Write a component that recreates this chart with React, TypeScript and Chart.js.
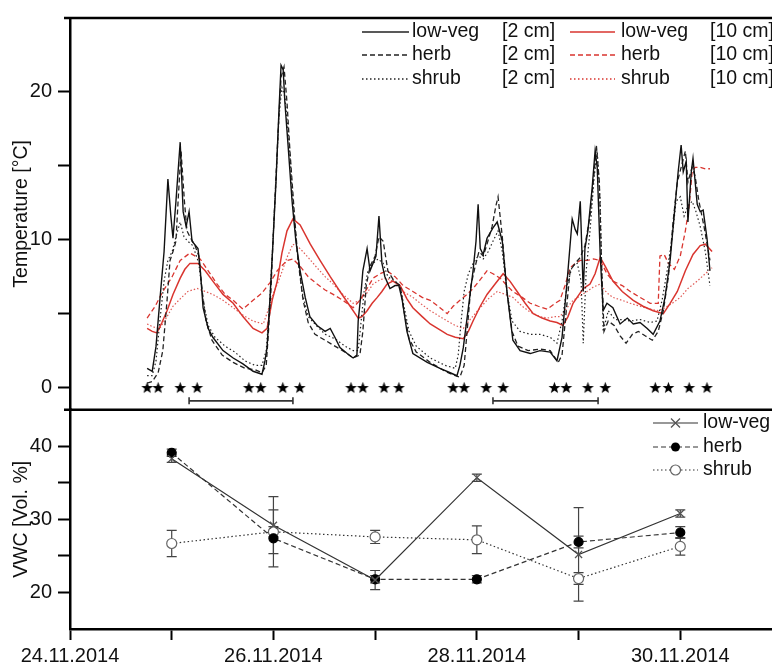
import React, { useEffect, useRef } from 'react';
import { Chart, registerables } from 'chart.js';

Chart.register(...registerables);

const FONT = 'Arial, "Liberation Sans", Helvetica, sans-serif';

// ---- axes (x in hours since 24.11.2014 00:00) ----
const xTickValues = [0, 24, 48, 72, 96, 120, 144];
const xTickLabels = ['24.11.2014', '', '26.11.2014', '', '28.11.2014', '', '30.11.2014'];
const tempTicks = [0, 5, 10, 15, 20];
const tempTickLabels = ['0', '', '10', '', '20'];
const vwcTicks = [20, 25, 30, 35, 40];
const vwcTickLabels = ['20', '', '30', '', '40'];

// ---- temperature series [hour, °C] ----
const lowVeg2cm: [number, number][] = [
  [18.2, 1.3], [19.4, 1.1], [20.3, 2.8], [21.2, 5.9], [22.2, 9.2], [23.1, 14.1], [23.8, 11.6], [24.3, 10.1],
  [25.0, 12.6], [26.0, 16.6], [26.7, 11.9], [27.4, 10.9], [28.1, 11.9], [28.8, 9.9], [30.2, 9.4], [30.7, 8.1],
  [31.4, 5.4], [32.6, 4.0], [33.7, 3.4], [36.1, 2.5], [38.5, 2.0], [40.8, 1.6], [43.2, 1.1], [45.3, 0.9],
  [46.0, 1.8], [46.5, 2.7], [47.2, 6.1], [47.9, 9.9], [48.6, 13.9], [49.3, 18.7], [49.8, 21.8], [50.3, 21.5],
  [50.7, 19.3], [51.4, 16.6], [52.4, 12.6], [53.3, 9.9], [54.3, 7.9], [55.5, 6.1], [56.6, 4.8], [58.3, 4.2],
  [60.2, 3.8], [61.4, 4.0], [62.5, 3.4], [63.7, 2.7], [65.4, 2.3], [66.8, 2.0], [67.7, 2.2], [68.0, 4.5],
  [68.7, 6.5], [69.1, 7.9], [70.1, 9.4], [70.8, 7.9], [71.5, 8.4], [72.2, 8.9], [72.9, 11.6], [73.6, 8.4],
  [74.3, 7.5], [75.5, 6.7], [76.7, 6.9], [77.6, 6.9], [78.4, 5.9], [79.5, 3.8], [80.9, 2.3], [84.3, 1.7],
  [87.3, 1.3], [89.7, 1.0], [91.3, 0.8], [92.0, 1.5], [92.8, 2.7], [94.0, 5.4], [95.1, 7.9], [95.8, 9.9],
  [96.3, 12.4], [96.8, 9.4], [97.5, 9.0], [98.4, 10.1], [99.8, 10.8], [100.8, 11.2], [102.0, 9.9], [103.1, 6.5],
  [104.5, 3.2], [106.2, 2.5], [108.6, 2.3], [110.9, 2.5], [113.3, 2.4], [114.9, 1.8], [116.1, 3.4], [117.3, 7.2],
  [118.5, 11.4], [119.2, 10.7], [119.7, 10.4], [120.4, 12.6], [121.1, 6.5], [121.5, 9.4], [122.2, 10.6], [123.2, 13.5],
  [123.9, 16.0], [124.4, 14.9], [125.1, 9.0], [125.8, 5.2], [126.7, 5.7], [128.1, 5.4], [129.8, 4.3], [131.5, 4.7],
  [132.9, 4.3], [134.5, 4.4], [136.2, 4.0], [137.6, 3.6], [139.2, 4.5], [140.4, 6.1], [141.6, 8.6], [142.8, 12.4],
  [143.5, 14.6], [144.2, 16.4], [144.7, 14.6], [145.4, 15.3], [145.8, 11.2], [146.6, 14.6], [147.0, 15.5], [148.0, 12.4],
  [148.7, 11.9], [149.4, 12.0], [150.3, 10.1], [151.0, 7.9],
];
const herb2cm: [number, number][] = [
  [18.2, 0.3], [19.4, 0.4], [20.8, 1.0], [21.9, 2.5], [22.9, 5.9], [23.6, 8.6], [24.3, 9.2], [25.0, 9.9],
  [25.5, 12.6], [26.2, 16.0], [27.0, 12.6], [27.6, 10.6], [28.3, 10.2], [29.5, 9.6], [30.4, 8.9], [31.2, 6.5],
  [32.1, 4.5], [33.5, 3.2], [35.9, 2.2], [38.5, 1.7], [41.3, 1.3], [43.7, 1.2], [45.3, 1.0], [46.3, 1.5],
  [46.7, 3.2], [47.4, 6.5], [48.1, 11.2], [49.1, 17.3], [49.8, 21.0], [50.5, 21.7], [51.2, 19.3], [51.9, 16.0],
  [52.9, 11.9], [53.8, 8.6], [55.0, 5.9], [56.2, 4.4], [57.8, 3.6], [60.2, 3.2], [62.5, 2.8], [64.9, 2.4],
  [66.8, 2.0], [68.4, 2.2], [69.1, 3.8], [69.9, 6.9], [70.8, 8.2], [72.0, 8.9], [72.9, 10.2], [73.9, 9.9],
  [75.0, 7.9], [76.5, 7.2], [77.9, 6.9], [78.8, 5.2], [80.0, 3.3], [81.7, 2.4], [85.0, 1.7], [88.5, 1.1],
  [90.9, 0.8], [92.0, 0.7], [93.0, 1.5], [93.7, 3.8], [94.6, 6.9], [95.6, 8.2], [96.5, 9.2], [97.5, 8.9],
  [98.4, 9.7], [99.6, 10.9], [100.5, 12.3], [101.0, 12.9], [102.0, 10.2], [103.1, 6.5], [104.3, 3.8], [105.7, 2.8],
  [108.1, 2.5], [110.9, 2.6], [113.3, 2.5], [115.2, 1.7], [116.1, 2.2], [117.1, 5.2], [118.0, 7.9], [119.2, 8.4],
  [120.4, 8.8], [121.5, 9.6], [122.7, 11.6], [123.7, 14.6], [124.2, 16.4], [124.9, 13.9], [125.4, 8.6], [126.0, 3.8],
  [127.0, 4.5], [128.4, 4.2], [129.8, 3.5], [131.2, 3.0], [132.7, 3.6], [134.1, 3.8], [135.7, 3.5], [137.4, 3.2],
  [138.8, 3.8], [140.0, 5.2], [141.2, 7.5], [142.3, 11.2], [143.3, 13.9], [144.2, 14.9], [145.2, 16.0], [145.8, 13.9],
  [146.8, 14.9], [147.5, 14.3], [148.4, 12.6], [149.6, 10.9], [151.0, 8.6],
];
const shrub2cm: [number, number][] = [
  [18.2, 0.8], [19.4, 0.8], [20.3, 1.8], [21.2, 4.5], [22.2, 7.2], [23.1, 8.6], [24.1, 9.2], [25.0, 10.2],
  [26.0, 11.2], [26.9, 10.2], [27.8, 9.9], [29.0, 9.6], [30.4, 8.4], [31.4, 5.9], [32.6, 4.2], [34.2, 3.4],
  [36.6, 2.8], [38.9, 2.4], [41.3, 1.8], [43.7, 1.5], [45.3, 1.5], [46.3, 2.5], [47.0, 5.2], [47.7, 8.9],
  [48.6, 13.9], [49.3, 18.3], [50.0, 20.3], [50.7, 19.7], [51.7, 16.6], [52.6, 12.6], [53.6, 9.2], [54.8, 6.4],
  [56.2, 4.8], [58.1, 4.2], [60.2, 3.6], [62.5, 3.3], [64.9, 2.8], [66.8, 2.5], [68.0, 2.5], [68.7, 4.5],
  [69.4, 6.5], [70.3, 7.9], [71.5, 8.4], [72.7, 8.7], [73.9, 8.4], [75.0, 7.5], [76.7, 7.2], [77.9, 6.9],
  [78.8, 5.5], [80.0, 3.8], [81.7, 2.8], [85.0, 2.0], [88.5, 1.5], [90.9, 1.3], [91.6, 2.2], [92.3, 4.5],
  [93.0, 6.5], [94.0, 7.7], [95.1, 8.4], [96.3, 8.9], [97.5, 8.7], [98.7, 9.2], [99.8, 9.9], [101.0, 10.6],
  [102.0, 9.2], [103.1, 6.5], [104.3, 4.5], [106.2, 3.8], [108.6, 3.6], [110.9, 3.6], [113.3, 3.4], [114.9, 3.0],
  [116.1, 4.5], [117.3, 6.9], [118.5, 8.2], [119.7, 8.4], [120.6, 7.2], [121.1, 3.0], [121.8, 7.9], [122.7, 10.6],
  [123.7, 14.3], [124.4, 16.0], [125.1, 12.6], [125.8, 3.8], [127.0, 5.2], [128.6, 4.6], [130.3, 4.6], [132.2, 4.5],
  [134.5, 4.6], [136.9, 4.4], [138.5, 4.5], [139.7, 5.9], [140.9, 7.9], [142.1, 10.2], [143.0, 12.6], [144.0, 12.9],
  [144.9, 11.6], [145.8, 12.3], [146.8, 12.6], [147.7, 11.9], [148.7, 10.9], [149.9, 9.2], [151.0, 6.9],
];
const lowVeg10cm: [number, number][] = [
  [18.2, 4.0], [19.4, 3.8], [20.5, 3.7], [21.7, 4.4], [22.9, 5.2], [24.3, 6.3], [26.0, 7.4], [27.1, 8.0],
  [28.3, 8.4], [30.2, 8.4], [31.9, 7.9], [33.7, 7.2], [36.1, 6.3], [38.5, 5.7], [40.8, 4.8], [43.2, 4.0],
  [45.3, 3.7], [46.5, 4.0], [47.7, 5.9], [48.9, 7.2], [50.0, 9.1], [51.2, 10.6], [52.6, 11.4], [54.3, 11.0],
  [56.7, 9.7], [59.0, 8.6], [61.4, 7.5], [63.7, 6.5], [66.1, 5.5], [68.0, 4.7], [68.9, 4.8], [70.1, 5.2],
  [71.3, 5.7], [72.5, 6.1], [73.6, 6.5], [74.8, 7.0], [76.2, 7.2], [77.9, 6.9], [79.5, 6.0], [80.9, 5.4],
  [83.1, 4.8], [85.0, 4.3], [87.3, 3.9], [89.0, 3.6], [90.9, 3.4], [92.8, 3.3], [94.0, 3.8], [95.1, 4.5],
  [96.8, 5.5], [98.4, 6.3], [100.3, 7.0], [102.2, 7.7], [103.8, 7.2], [105.5, 6.5], [107.4, 5.7], [109.3, 5.0],
  [111.4, 4.7], [113.3, 4.5], [114.9, 4.4], [116.3, 4.2], [117.5, 4.8], [118.7, 5.7], [119.9, 6.2], [121.1, 6.7],
  [122.7, 7.0], [123.9, 7.7], [125.1, 8.8], [126.3, 8.2], [128.1, 7.2], [130.3, 6.5], [132.9, 5.9], [135.2, 5.5],
  [137.6, 5.2], [140.0, 5.0], [141.6, 5.7], [143.3, 6.5], [145.2, 7.9], [147.0, 9.0], [148.7, 9.6], [149.9, 9.7],
  [151.5, 9.2],
];
const herb10cm: [number, number][] = [
  [18.2, 4.7], [20.1, 5.5], [21.9, 6.5], [24.1, 7.5], [26.0, 8.6], [28.3, 9.1], [30.7, 8.7], [32.6, 7.9],
  [34.7, 7.0], [36.6, 6.3], [38.5, 5.9], [40.8, 5.3], [43.2, 5.9], [45.3, 6.4], [47.2, 7.1], [48.9, 7.9],
  [51.2, 8.6], [52.6, 8.7], [54.3, 8.2], [56.2, 7.5], [58.3, 7.0], [60.2, 6.6], [62.1, 6.3], [64.4, 5.9],
  [66.8, 5.4], [68.4, 5.9], [70.1, 6.7], [71.5, 7.4], [73.2, 7.7], [74.8, 7.9], [76.7, 7.5], [78.6, 6.9],
  [80.9, 6.5], [83.1, 6.1], [85.0, 5.9], [87.3, 5.4], [89.0, 5.0], [90.4, 5.5], [92.0, 5.9], [93.7, 6.3],
  [95.1, 6.7], [96.8, 7.3], [98.4, 7.9], [99.8, 7.7], [101.5, 7.4], [103.1, 6.9], [104.5, 6.5], [106.7, 6.1],
  [108.6, 5.7], [110.5, 5.5], [112.6, 5.3], [114.5, 5.7], [115.6, 5.9], [116.8, 6.9], [118.0, 8.1], [119.2, 8.4],
  [120.4, 8.6], [122.0, 8.6], [123.5, 8.7], [125.1, 8.6], [126.7, 7.7], [128.1, 7.2], [130.3, 6.9], [132.2, 6.5],
  [134.5, 6.1], [136.9, 5.7], [138.8, 5.7], [139.2, 8.9], [140.2, 9.0], [141.2, 8.4], [142.6, 8.0], [144.0, 8.9],
  [145.2, 10.6], [146.1, 12.3], [146.8, 14.6], [147.5, 14.9], [148.7, 14.9], [149.9, 14.8], [151.0, 14.8],
];
const shrub10cm: [number, number][] = [
  [18.2, 4.3], [19.6, 4.1], [21.2, 4.0], [22.9, 4.8], [24.3, 5.5], [26.0, 6.0], [27.8, 6.5], [30.0, 6.7],
  [31.9, 6.5], [33.7, 6.3], [36.1, 5.9], [38.5, 5.4], [40.8, 4.9], [43.2, 4.5], [45.6, 4.3], [46.7, 5.2],
  [47.9, 6.3], [49.6, 7.5], [51.2, 8.8], [52.6, 9.7], [54.3, 9.4], [56.2, 8.8], [58.3, 8.1], [60.2, 7.5],
  [62.1, 7.0], [64.4, 6.3], [66.8, 5.7], [68.4, 5.9], [70.1, 6.4], [71.5, 7.0], [73.2, 7.3], [74.8, 7.4],
  [76.7, 7.1], [78.6, 6.5], [80.9, 6.1], [83.1, 5.6], [85.0, 5.2], [87.3, 4.8], [89.0, 4.5], [90.9, 4.2],
  [92.8, 4.0], [94.4, 4.6], [96.8, 5.4], [98.7, 6.0], [100.8, 6.5], [102.7, 6.3], [104.5, 6.1], [106.7, 5.5],
  [108.6, 5.1], [110.9, 4.8], [112.6, 4.7], [114.5, 4.8], [115.6, 4.8], [117.3, 5.4], [118.7, 5.9], [120.4, 6.2],
  [122.0, 6.5], [123.5, 6.8], [125.1, 7.0], [126.7, 6.4], [128.1, 6.1], [130.3, 5.9], [132.2, 5.7], [134.5, 5.5],
  [136.9, 5.3], [138.8, 5.2], [140.4, 5.4], [142.1, 5.7], [144.0, 6.1], [145.8, 6.7], [148.0, 7.2], [149.9, 7.7],
  [151.5, 8.1],
];

// ---- markers in the temperature panel ----
const starHours = [
  18.2, 20.8, 26.0, 30.0, 42.2, 45.0, 50.2, 54.2, 66.3, 69.1, 74.1, 77.6,
  90.4, 93.0, 98.2, 102.2, 114.3, 117.1, 122.2, 126.3, 138.1, 141.2, 146.1, 150.3,
];
const starLevel = 0;
const bracketSpans: [number, number][] = [[28.1, 52.6], [99.8, 124.6]];
const bracketLevel = -0.9;

// ---- VWC panel ----
const vwcHours = [24, 48, 72, 96, 120, 144];
const vwcLowVeg = [38.3, 29.2, 21.7, 35.7, 25.2, 30.8];
const vwcLowVegErr = [0.5, 3.9, 1.3, 0.5, 6.4, 0.5];
const vwcHerb = [39.1, 27.4, 21.8, 21.8, 26.9, 28.2];
const vwcHerbErr = [0.5, 3.9, 0.5, 0.5, 0.8, 0.8];
const vwcShrub = [26.7, 28.3, 27.6, 27.2, 21.9, 26.3];
const vwcShrubErr = [1.8, 0.7, 0.9, 1.9, 0.8, 1.2];

const vegNames = ['low-veg', 'herb', 'shrub'];
const depthNames = ['[2 cm]', '[10 cm]'];

const RED = '#d9352f';
const BLACK = '#111111';
const dashFor = [[], [5, 3], [1.5, 2.5]];

function makeStar(size: number) {
  const c = document.createElement('canvas');
  c.width = size;
  c.height = size;
  const g = c.getContext('2d')!;
  const cx = size / 2, cy = size / 2 + 0.5, R = size / 2 - 0.3, r = R * 0.42;
  g.beginPath();
  for (let i = 0; i < 10; i++) {
    const a = -Math.PI / 2 + (i * Math.PI) / 5;
    const rad = i % 2 ? r : R;
    g.lineTo(cx + rad * Math.cos(a), cy + rad * Math.sin(a));
  }
  g.closePath();
  g.fillStyle = '#000';
  g.fill();
  return c;
}

const toPts = (arr: [number, number][]) => arr.map(([x, y]) => ({ x, y }));

export default function App() {
  const ref = useRef<HTMLCanvasElement>(null);

  useEffect(() => {
    const canvas = ref.current!;
    const star = makeStar(13);

    const lineDs = (label: string, d: [number, number][], color: string, width: number, dash: number[]) => ({
      label, data: toPts(d), yAxisID: 'yT', borderColor: color, borderWidth: width, borderDash: dash,
      pointRadius: 0, tension: 0, fill: false, showLine: true,
    });

    const errorSets = [
      { values: vwcLowVeg, errs: vwcLowVegErr },
      { values: vwcHerb, errs: vwcHerbErr },
      { values: vwcShrub, errs: vwcShrubErr },
    ];

    const framePlugin = {
      id: 'frame',
      beforeDatasetsDraw(chart: any) {
        const { ctx, scales } = chart;
        const x = scales.x, yB = scales.yB;
        ctx.save();
        ctx.strokeStyle = '#444';
        ctx.lineWidth = 1.2;
        errorSets.forEach((s) => {
          s.values.forEach((v, i) => {
            const px = x.getPixelForValue(vwcHours[i]);
            const top = yB.getPixelForValue(v + s.errs[i]);
            const bot = yB.getPixelForValue(v - s.errs[i]);
            ctx.beginPath();
            ctx.moveTo(px, top); ctx.lineTo(px, bot);
            ctx.moveTo(px - 5, top); ctx.lineTo(px + 5, top);
            ctx.moveTo(px - 5, bot); ctx.lineTo(px + 5, bot);
            ctx.stroke();
          });
        });
        ctx.restore();
      },
      afterDraw(chart: any) {
        const { ctx, chartArea, scales } = chart;
        ctx.save();
        ctx.strokeStyle = '#000';
        ctx.lineWidth = 2.5;
        ctx.beginPath();
        ctx.moveTo(chartArea.left - 6, chartArea.top);
        ctx.lineTo(chart.width, chartArea.top);
        const dy = scales.yT.bottom;
        ctx.moveTo(chartArea.left - 6, dy);
        ctx.lineTo(chart.width, dy);
        ctx.stroke();

        // top legend
        ctx.font = `19.5px ${FONT}`;
        ctx.textBaseline = 'middle';
        ctx.fillStyle = '#111';
        const rowsT = [32, 55, 79];
        vegNames.forEach((name, i) => {
          const y = rowsT[i];
          ctx.lineWidth = 1.3;
          ctx.strokeStyle = '#222';
          ctx.setLineDash(dashFor[i]);
          ctx.beginPath(); ctx.moveTo(362, y); ctx.lineTo(409, y); ctx.stroke();
          ctx.strokeStyle = RED;
          ctx.beginPath(); ctx.moveTo(570, y); ctx.lineTo(615, y); ctx.stroke();
          ctx.setLineDash([]);
          ctx.fillText(name, 412, y);
          ctx.fillText(depthNames[0], 502, y);
          ctx.fillText(name, 621, y);
          ctx.fillText(depthNames[1], 710, y);
        });

        // bottom legend
        const rowsB = [423, 447, 470];
        vegNames.forEach((name, i) => {
          const y = rowsB[i];
          ctx.lineWidth = 1.2;
          ctx.strokeStyle = '#333';
          ctx.setLineDash(dashFor[i]);
          ctx.beginPath(); ctx.moveTo(653, y); ctx.lineTo(698, y); ctx.stroke();
          ctx.setLineDash([]);
          const cx = 675.5;
          if (i === 0) {
            ctx.strokeStyle = '#555'; ctx.lineWidth = 1.3;
            ctx.beginPath();
            ctx.moveTo(cx - 4.5, y - 4.5); ctx.lineTo(cx + 4.5, y + 4.5);
            ctx.moveTo(cx - 4.5, y + 4.5); ctx.lineTo(cx + 4.5, y - 4.5);
            ctx.stroke();
          } else if (i === 1) {
            ctx.fillStyle = '#000';
            ctx.beginPath(); ctx.arc(cx, y, 4.5, 0, Math.PI * 2); ctx.fill();
          } else {
            ctx.fillStyle = '#fff'; ctx.strokeStyle = '#666'; ctx.lineWidth = 1.2;
            ctx.beginPath(); ctx.arc(cx, y, 5, 0, Math.PI * 2); ctx.fill(); ctx.stroke();
          }
          ctx.fillStyle = '#111';
          ctx.fillText(name, 703, y);
        });
        ctx.restore();
      },
    };

    const tickFont = { family: FONT, size: 20 };
    const gridCfg = { drawOnChartArea: false, drawTicks: true, tickLength: 12, tickWidth: 2, tickColor: '#000' };

    const chart = new Chart(canvas, {
      type: 'scatter',
      data: {
        datasets: [
          lineDs('low-veg 2cm', lowVeg2cm, BLACK, 1.4, []),
          lineDs('herb 2cm', herb2cm, '#222', 1.3, [5, 3]),
          lineDs('shrub 2cm', shrub2cm, '#222', 1.2, [1.5, 2.5]),
          lineDs('low-veg 10cm', lowVeg10cm, RED, 1.5, []),
          lineDs('herb 10cm', herb10cm, RED, 1.3, [5, 3]),
          lineDs('shrub 10cm', shrub10cm, '#e05a55', 1.2, [1.5, 2]),
          {
            label: 'stars', data: starHours.map((h) => ({ x: h, y: starLevel })), yAxisID: 'yT',
            showLine: false, pointStyle: star as any, pointRadius: 6,
          },
          ...bracketSpans.map((s, i) => ({
            label: 'bracket' + i, data: s.map((h) => ({ x: h, y: bracketLevel })), yAxisID: 'yT',
            showLine: true, borderColor: '#333', borderWidth: 1.6, pointStyle: 'line' as any,
            rotation: 90, pointRadius: 3.5, pointBorderColor: '#333', pointBorderWidth: 1.6,
          })),
          {
            label: 'VWC low-veg', data: vwcHours.map((h, i) => ({ x: h, y: vwcLowVeg[i] })), yAxisID: 'yB',
            showLine: true, borderColor: '#333', borderWidth: 1.2, pointStyle: 'crossRot' as any, pointRadius: 5,
            pointBorderColor: '#555', pointBorderWidth: 1.3, tension: 0,
          },
          {
            label: 'VWC herb', data: vwcHours.map((h, i) => ({ x: h, y: vwcHerb[i] })), yAxisID: 'yB',
            showLine: true, borderColor: '#333', borderWidth: 1.2, borderDash: [5, 3], pointStyle: 'circle' as any,
            pointRadius: 4.5, pointBackgroundColor: '#000', pointBorderColor: '#000', tension: 0,
          },
          {
            label: 'VWC shrub', data: vwcHours.map((h, i) => ({ x: h, y: vwcShrub[i] })), yAxisID: 'yB',
            showLine: true, borderColor: '#333', borderWidth: 1.2, borderDash: [1.5, 2.5], pointStyle: 'circle' as any,
            pointRadius: 5, pointBackgroundColor: '#fff', pointBorderColor: '#666', pointBorderWidth: 1.2, tension: 0,
          },
        ] as any,
      },
      options: {
        animation: false,
        responsive: false,
        maintainAspectRatio: false,
        devicePixelRatio: 1,
        layout: { padding: { top: 16, right: 8, left: 0, bottom: 0 } },
        plugins: { legend: { display: false }, tooltip: { enabled: false } },
        events: [],
        scales: {
          x: {
            type: 'linear', position: 'bottom', min: 0, max: 168,
            afterBuildTicks: (s: any) => { s.ticks = xTickValues.map((v) => ({ value: v })); },
            afterFit: (s: any) => { s.height = 38; },
            ticks: {
              autoSkip: false, maxRotation: 0, minRotation: 0, padding: 4, color: '#111', font: tickFont,
              callback: (_v: any, i: number) => xTickLabels[i] ?? '',
            },
            grid: { ...gridCfg, tickLength: 11 },
            border: { display: true, color: '#000', width: 2.5 },
          },
          yB: {
            type: 'linear', position: 'left', stack: 'panels', stackWeight: 220, weight: 1,
            min: 15, max: 45,
            afterBuildTicks: (s: any) => { s.ticks = vwcTicks.map((v) => ({ value: v })); },
            afterFit: (s: any) => { s.width = 70; },
            ticks: { padding: 6, color: '#111', font: tickFont, callback: (_v: any, i: number) => vwcTickLabels[i] ?? '' },
            grid: gridCfg,
            border: { display: true, color: '#000', width: 2.5 },
            title: { display: true, text: 'VWC [Vol. %]', color: '#111', font: { family: FONT, size: 19.5 }, padding: { top: 10, bottom: 0 } },
          },
          yT: {
            type: 'linear', position: 'left', stack: 'panels', stackWeight: 393, weight: 2,
            min: -1.5, max: 25,
            afterBuildTicks: (s: any) => { s.ticks = tempTicks.map((v) => ({ value: v })); },
            afterFit: (s: any) => { s.width = 70; },
            ticks: { padding: 6, color: '#111', font: tickFont, callback: (_v: any, i: number) => tempTickLabels[i] ?? '' },
            grid: gridCfg,
            border: { display: true, color: '#000', width: 2.5 },
            title: { display: true, text: 'Temperature [°C]', color: '#111', font: { family: FONT, size: 19.5 }, padding: { top: 10, bottom: 0 } },
          },
        } as any,
      },
      plugins: [framePlugin],
    });

    return () => chart.destroy();
  }, []);

  return (
    <div style={{ position: 'absolute', left: 0, top: 0, width: 772, height: 667, overflow: 'hidden', background: '#fff' }}>
      <canvas ref={ref} width={790} height={667} style={{ width: 790, height: 667, display: 'block' }} />
    </div>
  );
}
